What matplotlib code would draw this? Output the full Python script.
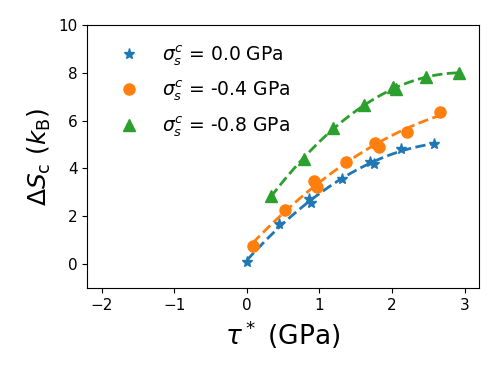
import numpy as np
import matplotlib.pyplot as plt

# tau* (GPa) and Delta S_c (k_B) for each sigma_s^c
tau_0 = [0.00, 0.45, 0.86, 0.88, 1.31, 1.70, 1.75, 2.13, 2.58]
ds_0 = [0.10, 1.67, 2.72, 2.54, 3.56, 4.28, 4.17, 4.81, 5.02]

tau_4 = [0.08, 0.52, 0.93, 0.97, 1.36, 1.76, 1.82, 2.21, 2.66]
ds_4 = [0.77, 2.26, 3.49, 3.24, 4.25, 5.05, 4.91, 5.54, 6.35]

tau_8 = [0.33, 0.79, 1.19, 1.61, 2.02, 2.05, 2.47, 2.92]
ds_8 = [2.85, 4.38, 5.68, 6.65, 7.42, 7.31, 7.81, 8.00]

labels = [r'$\sigma_s^c$ = 0.0 GPa', r'$\sigma_s^c$ = -0.4 GPa', r'$\sigma_s^c$ = -0.8 GPa']
markers = ['*', 'o', '^']
colors = ['tab:blue', 'tab:orange', 'tab:green']

fig = plt.figure(figsize=(4.98, 3.74), dpi=100)
ax = fig.add_axes([0.175, 0.23, 0.787, 0.703])

for x, y, lab, m, c in zip([tau_0, tau_4, tau_8], [ds_0, ds_4, ds_8], labels, markers, colors):
    ax.plot(x, y, m, color=c, ms=8, label=lab, linestyle='none')
    # fitted curve
    p = np.polyfit(x, y, 2)
    xx = np.linspace(min(x), max(x), 100)
    ax.plot(xx, np.polyval(p, xx), '--', color=c, lw=2)

ax.set_xlim(-2.2, 3.2)
ax.set_ylim(-1, 10)
ax.set_xticks([-2, -1, 0, 1, 2, 3])
ax.set_yticks([0, 2, 4, 6, 8, 10])
ax.tick_params(labelsize=11)
ax.set_xlabel(r'$\tau^*$ (GPa)', fontsize=19)
ax.set_ylabel(r'$\Delta S_\mathrm{c}\ (k_\mathrm{B})$', fontsize=18)
ax.legend(loc='upper left', frameon=False, fontsize=13.5, labelspacing=0.55,
          bbox_to_anchor=(0.015, 0.995))

plt.savefig('out.png', dpi=100)
